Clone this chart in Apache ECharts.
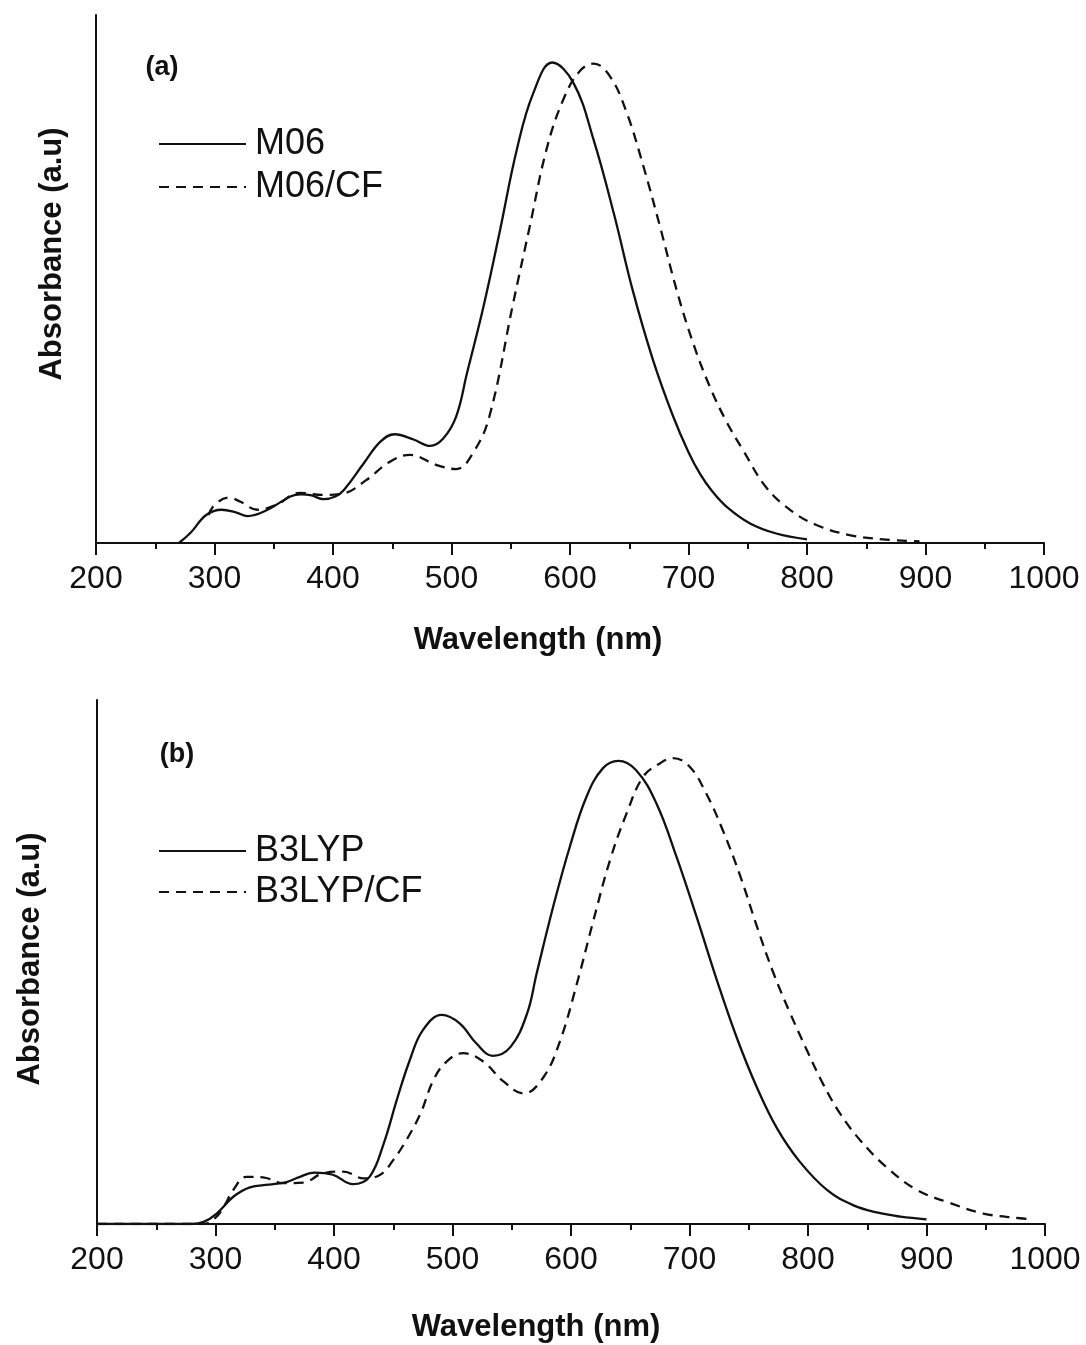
<!DOCTYPE html>
<html>
<head>
<meta charset="utf-8">
<script src="https://cdn.jsdelivr.net/npm/echarts@6/dist/echarts.min.js"></script>
<style>
html,body{margin:0;padding:0;background:#fff;}
#chart{width:1086px;height:1345px;}
</style>
</head>
<body>
<div id="chart"></div>
<script>
// ---- Panel (a) data ----
const wlM06 = [270,280,293,306,318,328,344,364,373,382,392,402,409,426,440,452,468,482,493,504,513,527,541,555,569,585,603,620,637,653,670,687,700,710,720,732,752,774,800];
const absM06 = [0,0.02,0.053,0.063,0.058,0.051,0.062,0.088,0.092,0.090,0.083,0.088,0.100,0.151,0.192,0.206,0.196,0.184,0.198,0.240,0.321,0.448,0.593,0.744,0.852,0.910,0.871,0.763,0.624,0.478,0.347,0.240,0.172,0.130,0.098,0.069,0.037,0.018,0.007];
const wlM06CF = [295,300,312,322,336,352,372,392,409,428,448,465,487,504,518,532,552,566,580,594,608,620,634,648,662,676,690,704,718,732,746,766,788,808,836,864,895];
const absM06CF = [0.053,0.072,0.086,0.078,0.063,0.072,0.095,0.091,0.094,0.119,0.154,0.167,0.148,0.140,0.170,0.240,0.454,0.599,0.744,0.838,0.893,0.908,0.883,0.814,0.713,0.599,0.479,0.378,0.296,0.230,0.176,0.104,0.059,0.034,0.015,0.007,0.003];
// ---- Panel (b) data ----
const wlB3 = [200,280,290,301,315,329,345,360,370,383,399,416,430,442,453,464,475,491,506,520,534,549,563,571,585,599,613,627,640,655,672,689,706,723,740,757,774,793,816,838,858,878,900];
const absB3 = [0,0,0.004,0.020,0.052,0.070,0.075,0.080,0.089,0.098,0.094,0.076,0.090,0.154,0.237,0.313,0.370,0.399,0.383,0.345,0.321,0.338,0.402,0.478,0.606,0.720,0.815,0.870,0.884,0.866,0.803,0.701,0.586,0.466,0.355,0.260,0.182,0.119,0.065,0.036,0.022,0.014,0.009];
const wlB3CF = [200,290,300,307,315,326,340,357,374,391,408,425,439,450,461,473,484,495,509,526,543,560,577,591,605,619,633,647,661,675,686,700,714,728,743,757,771,785,799,813,827,844,866,892,920,948,979,990];
const absB3CF = [0,0,0.012,0.033,0.065,0.090,0.089,0.078,0.079,0.097,0.100,0.087,0.094,0.122,0.160,0.211,0.275,0.310,0.326,0.310,0.272,0.249,0.281,0.351,0.459,0.580,0.695,0.784,0.854,0.879,0.889,0.873,0.822,0.752,0.663,0.567,0.478,0.402,0.332,0.266,0.211,0.160,0.109,0.065,0.040,0.020,0.011,0.009];
// ---- Axis ticks ----
const xMin = 200, xMax = 1000, xStep = 100;
const seriesNames = ['M06','M06/CF','B3LYP','B3LYP/CF'];

const pair = (w, a) => w.map((v, i) => [v, a[i]]);
const FONT = '"Liberation Sans", Arial, sans-serif';
const INK = '#111';

function xAx(gi){
  return {
    type:'value', gridIndex:gi, min:xMin, max:xMax, interval:xStep,
    axisLine:{show:true, onZero:false, lineStyle:{color:INK, width:2}},
    axisTick:{show:true, length:12, lineStyle:{color:INK, width:2}},
    minorTick:{show:true, splitNumber:2, length:6, lineStyle:{color:INK, width:2}},
    axisLabel:{fontFamily:FONT, fontSize:32, color:INK, margin:20, formatter: v => String(v)},
    splitLine:{show:false}, minorSplitLine:{show:false}
  };
}
function yAx(gi){
  return {
    type:'value', gridIndex:gi, min:0, max:1,
    axisLine:{show:true, lineStyle:{color:INK, width:2}},
    axisTick:{show:false}, axisLabel:{show:false}, splitLine:{show:false}
  };
}
function ser(name, gi, data, dashed){
  return {
    name, type:'line', xAxisIndex:gi, yAxisIndex:gi, data,
    symbol:'none', smooth:0.4, silent:true,
    lineStyle:{color:INK, width:2.3, type: dashed ? [10,7] : 'solid'},
    itemStyle:{color:INK}
  };
}
function legendAt(top, names, gap){
  return {
    left:158, top, orient:'vertical', itemWidth:87, itemHeight:14, itemGap:gap,
    data:names, selectedMode:false, padding:0,
    itemStyle:{opacity:0},
    textStyle:{fontFamily:FONT, fontSize:36, color:INK, lineHeight:40, padding:[0,0,0,4]}
  };
}
function txt(x, y, s, size, bold, rot){
  return {
    type:'text', x, y, rotation: rot || 0, silent:true,
    style:{text:s, fontFamily:FONT, fontSize:size, fontWeight: bold ? 'bold' : 'normal',
      fill:INK, align:'center', verticalAlign:'middle'}
  };
}

const chart = echarts.init(document.getElementById('chart'), null, {renderer:'canvas'});
chart.setOption({
  animation:false,
  backgroundColor:'#fff',
  grid:[
    {left:96, top:15, width:948, height:528},
    {left:97, top:700, width:948, height:524}
  ],
  xAxis:[xAx(0), xAx(1)],
  yAxis:[yAx(0), yAx(1)],
  legend:[
    legendAt(124, [seriesNames[0], seriesNames[1]], 3),
    legendAt(831, [seriesNames[2], seriesNames[3]], 1)
  ],
  series:[
    ser(seriesNames[0], 0, pair(wlM06, absM06), false),
    ser(seriesNames[1], 0, pair(wlM06CF, absM06CF), true),
    ser(seriesNames[2], 1, pair(wlB3, absB3), false),
    ser(seriesNames[3], 1, pair(wlB3CF, absB3CF), true)
  ],
  graphic:[
    txt(162, 68, '(a)', 27, true),
    txt(177, 755, '(b)', 27, true),
    txt(538, 640, 'Wavelength (nm)', 31, true),
    txt(536, 1327, 'Wavelength (nm)', 31, true),
    txt(52, 254, 'Absorbance (a.u)', 31, true, Math.PI/2),
    txt(30, 959, 'Absorbance (a.u)', 31, true, Math.PI/2)
  ]
});
</script>
</body>
</html>
